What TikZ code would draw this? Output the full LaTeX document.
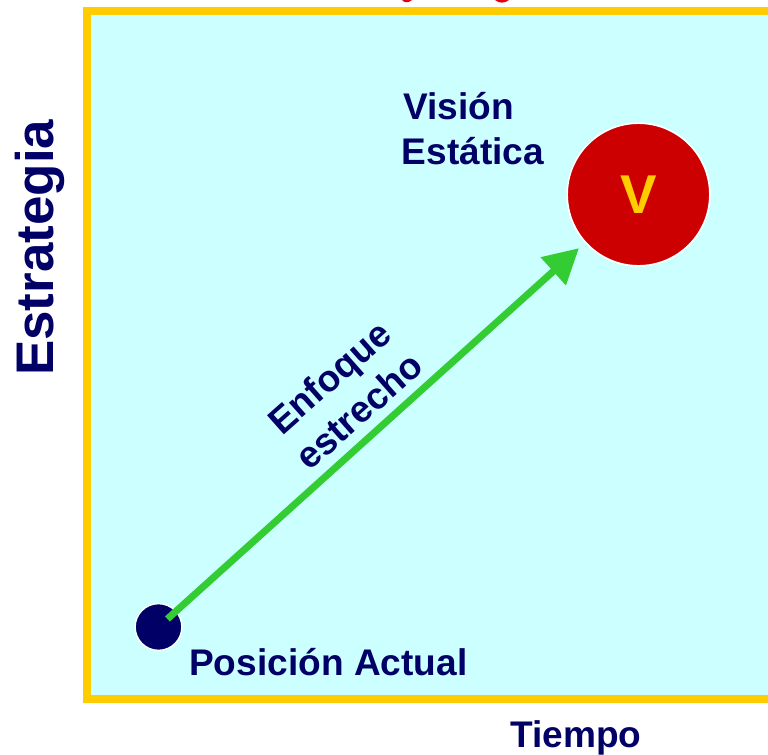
\documentclass[tikz,border=0pt]{standalone}
\usepackage{fontspec}
\setmainfont{Liberation Sans}
\usetikzlibrary{arrows.meta,calc}
\definecolor{cyanbg}{HTML}{CCFFFF}
\definecolor{frameyellow}{HTML}{FFCC00}
\definecolor{navy}{HTML}{000066}
\definecolor{vred}{HTML}{CC0000}
\definecolor{agreen}{HTML}{33CC33}
\definecolor{tred}{HTML}{E00010}
\begin{document}
\begin{tikzpicture}[x=0.75pt,y=-0.75pt,
  lbl/.style={font=\bfseries\fontsize{27.8}{33.5}\selectfont, text=navy, inner sep=0pt},
  bigdot/.style={circle, inner sep=0pt, draw=white}]
\useasboundingbox (0,0) rectangle (768,754);
\begin{scope}
  \clip (0,0) rectangle (768,754);
  \draw[frameyellow, line width=6pt, fill=cyanbg] (86.5,11) rectangle (790,698.5);
  \fill[tred] (402,0) .. controls (404,3) and (409,3) .. (412,0) -- cycle;
  \fill[tred] (495,0) .. controls (499,3.5) and (505,3.5) .. (509,0) -- cycle;
\end{scope}
\node[bigdot, fill=vred, line width=1.2pt, minimum size=107pt,
      font=\bfseries\fontsize{41}{45}\selectfont, text=frameyellow] (v) at (638.5,194.5) {\raisebox{-1.8pt}{V}};
\node[bigdot, fill=navy, line width=1pt, minimum size=35pt] (pa) at (158.5,627) {};
\draw[agreen, line width=5.25pt, -{Triangle[length=26pt,width=27pt]},
      shorten <=9pt, shorten >=6pt] (pa.center) -- (v);
\node[lbl, anchor=base west] (vis1) at (403,119.3) {Visión};
\node[lbl, anchor=base west] (vis2) at (401.5,164) {Estática};
\node[lbl, anchor=base west] (pos) at (189,675.7) {Posición Actual};
\node[lbl, anchor=base west] (tie) at (510,747) {Tiempo};
\node[lbl, font=\bfseries\fontsize{39.7}{45}\selectfont, rotate=90, anchor=base west] (est) at (53,376) {Estrategia};
\node[lbl, rotate=41.5, align=center] (enf) at (344,394) {Enfoque\\estrecho};
\end{tikzpicture}
\end{document}
